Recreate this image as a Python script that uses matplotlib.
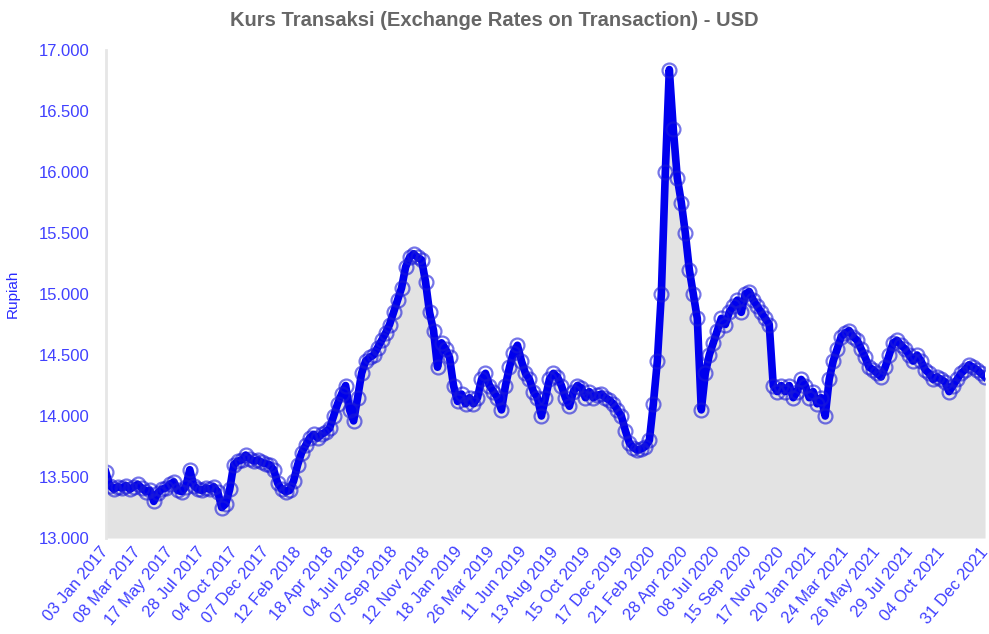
import numpy as np
import matplotlib.pyplot as plt
from matplotlib.ticker import FuncFormatter

plt.rcParams['font.family'] = ['Liberation Sans', 'DejaVu Sans']

# kurs transaksi USD (rupiah), kira-kira tiap minggu
rate = [13540, 13430, 13400, 13420, 13410, 13430, 13400, 13420, 13440, 13410,
        13380, 13390, 13300, 13370, 13400, 13410, 13440, 13460, 13390, 13380,
        13420, 13560, 13430, 13400, 13390, 13410, 13400, 13420, 13380, 13250,
        13280, 13400, 13600, 13630, 13640, 13680, 13650, 13630, 13640, 13620,
        13610, 13600, 13560, 13450, 13400, 13380, 13390, 13470, 13600, 13700,
        13760, 13820, 13850, 13820, 13850, 13870, 13900, 14000, 14100, 14180,
        14250, 14050, 13960, 14150, 14350, 14450, 14480, 14500, 14560, 14620,
        14680, 14750, 14850, 14950, 15050, 15220, 15300, 15330, 15300, 15280,
        15100, 14850, 14700, 14400, 14600, 14550, 14480, 14250, 14120, 14180,
        14100, 14150, 14100, 14150, 14300, 14350, 14250, 14200, 14150, 14050,
        14250, 14400, 14520, 14580, 14450, 14350, 14300, 14200, 14150, 14000,
        14150, 14300, 14350, 14320, 14250, 14150, 14080, 14200, 14250, 14230,
        14150, 14200, 14150, 14170, 14180, 14150, 14130, 14100, 14050, 14000,
        13880, 13780, 13740, 13720, 13730, 13750, 13800, 14100, 14450, 15000,
        16000, 16840, 16350, 15950, 15750, 15500, 15200, 15000, 14800, 14050,
        14350, 14500, 14600, 14700, 14800, 14750, 14850, 14900, 14950, 14850,
        15000, 15020, 14950, 14900, 14850, 14800, 14750, 14250, 14200, 14250,
        14200, 14250, 14150, 14200, 14300, 14250, 14150, 14200, 14100, 14150,
        14000, 14300, 14450, 14550, 14650, 14680, 14700, 14650, 14620, 14550,
        14480, 14400, 14380, 14350, 14320, 14400, 14500, 14600, 14620, 14580,
        14550, 14500, 14450, 14500, 14450, 14380, 14350, 14300, 14320, 14300,
        14280, 14200, 14250, 14300, 14350, 14380, 14420, 14400, 14380, 14350,
        14320]

tick_labels = ['03 Jan 2017', '08 Mar 2017', '17 May 2017', '28 Jul 2017', '04 Oct 2017',
               '07 Dec 2017', '12 Feb 2018', '18 Apr 2018', '04 Jul 2018', '07 Sep 2018',
               '12 Nov 2018', '18 Jan 2019', '26 Mar 2019', '11 Jun 2019', '13 Aug 2019',
               '15 Oct 2019', '17 Dec 2019', '21 Feb 2020', '28 Apr 2020', '08 Jul 2020',
               '15 Sep 2020', '17 Nov 2020', '20 Jan 2021', '24 Mar 2021', '26 May 2021',
               '29 Jul 2021', '04 Oct 2021', '31 Dec 2021']

n_days = 1230  # jumlah hari transaksi (indeks terakhir)
x = np.linspace(0, n_days, len(rate))
tick_pos = [i * 45 for i in range(len(tick_labels) - 1)] + [n_days]

fig = plt.figure(figsize=(9.89, 6.34), dpi=100)
ax = fig.add_axes([0.107, 0.1514, 0.889, 0.7697])

ax.fill_between(x, rate, 13000, color='#e3e3e3', lw=0)
ax.plot(x, rate, color='#0000ee', lw=5.5, marker='o', ms=10,
        mfc='none', mec=(0.1, 0.1, 0.85, 0.6), mew=1.6)

ax.set_xlim(0, n_days)
ax.set_ylim(13000, 17000)
ax.set_yticks(np.arange(13000, 17001, 500))
ax.yaxis.set_major_formatter(FuncFormatter(lambda v, p: f'{int(v):,}'.replace(',', '.')))
ax.set_xticks(tick_pos)
ax.set_xticklabels(tick_labels, rotation=50, ha='right', va='center',
                   rotation_mode='anchor')

ax.tick_params(length=0, colors='#4040ff', labelsize=12)
ax.tick_params(axis='y', pad=12)
ax.tick_params(axis='x', pad=8)
for s in ['top', 'right', 'bottom']:
    ax.spines[s].set_visible(False)
ax.spines['left'].set_color('#e6e6e6')
ax.spines['left'].set_linewidth(2)

ax.set_ylabel('Rupiah', color='#2a2aff', fontsize=11)
ax.yaxis.set_label_coords(-0.098, 0.5)
fig.text(0.5, 0.968, 'Kurs Transaksi (Exchange Rates on Transaction) - USD',
         color='#666666', fontsize=14.5, fontweight='bold', ha='center', va='center')

plt.savefig('out.png', dpi=100)
